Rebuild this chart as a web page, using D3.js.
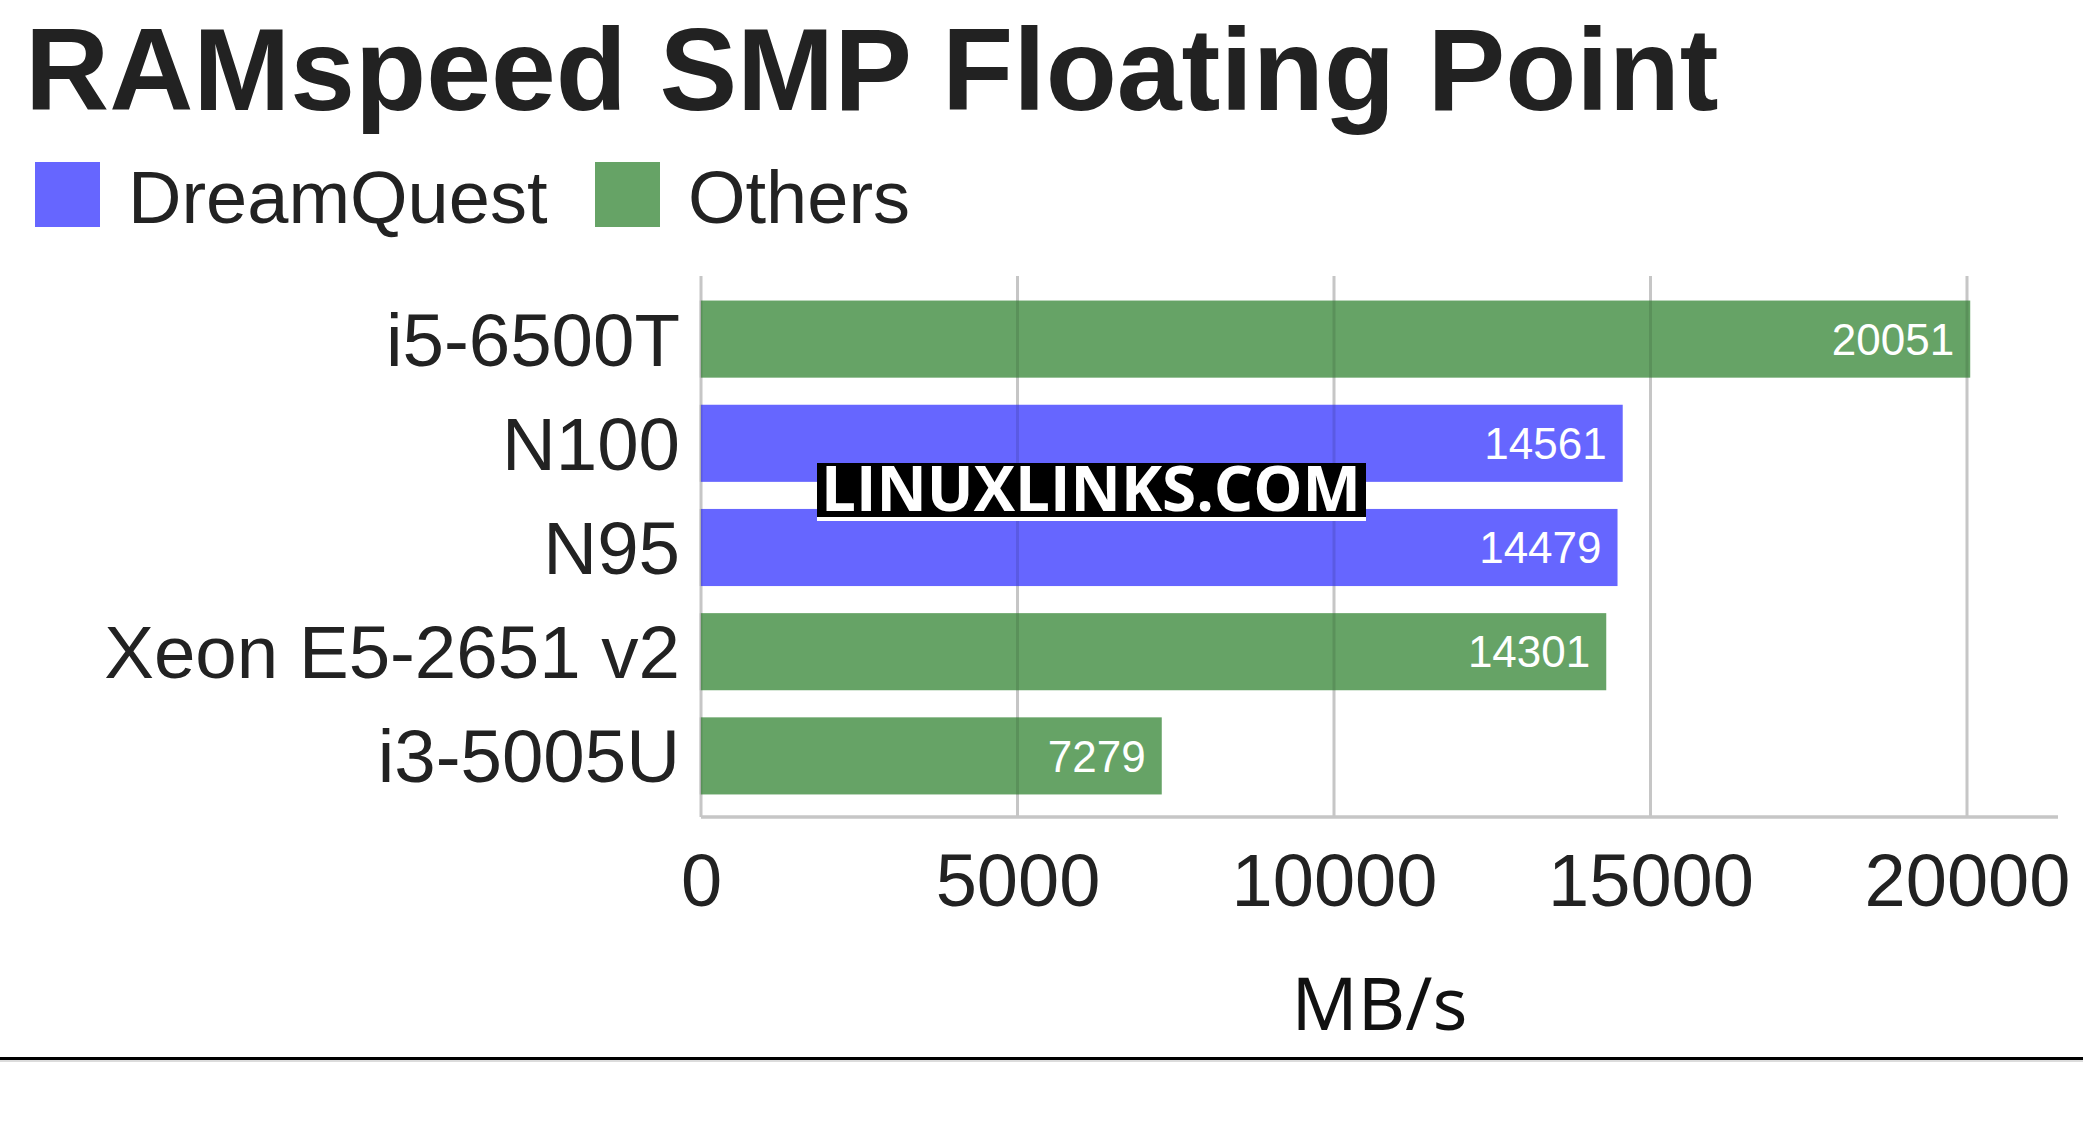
<!DOCTYPE html>
<html>
<head>
<meta charset="utf-8">
<script src="https://cdn.jsdelivr.net/npm/d3@7"></script>
<style>
  html, body { margin: 0; padding: 0; background: #fff; }
  svg { display: block; }
</style>
</head>
<body>
<svg id="chart" width="2083" height="1145"></svg>
<script>
const title = "RAMspeed SMP Floating Point";
const categories = ["i5-6500T", "N100", "N95", "Xeon E5-2651 v2", "i3-5005U"];
const values = [20051, 14561, 14479, 14301, 7279];
const groups = ["Others", "DreamQuest", "DreamQuest", "Others", "Others"];
const seriesNames = ["DreamQuest", "Others"];
const seriesColors = ["#6666ff", "#66a366"];
const xTicks = [0, 5000, 10000, 15000, 20000];
const xAxisTitle = "MB/s";
const watermark = "LINUXLINKS.COM";

(function () {
const svg = d3.select("#chart");
const W = 2083, H = 1145;
const plotLeft = 701, plotRight = 2058, plotTop = 276, plotBottom = 817;

const color = d3.scaleOrdinal().domain(seriesNames).range(seriesColors);
const x = d3.scaleLinear().domain([0, 20000]).range([plotLeft, 1967]);
const y = d3.scaleBand().domain(categories).range([287, 808]).paddingInner(0.26).paddingOuter(0.13);

// Title
svg.append("text").attr("x", 25).attr("y", 110)
  .attr("font-family", "Liberation Sans, Arial, sans-serif")
  .attr("font-weight", "bold").attr("font-size", 116.5).attr("fill", "#222")
  .text(title);

// Legend
const legendX = [35, 595];
seriesNames.forEach((s, i) => {
  svg.append("rect").attr("x", legendX[i]).attr("y", 162).attr("width", 65).attr("height", 65)
    .attr("fill", color(s));
  svg.append("text").attr("x", legendX[i] + 93).attr("y", 223)
    .attr("font-family", "Liberation Sans, Arial, sans-serif")
    .attr("font-size", 74).attr("fill", "#222").text(s);
});

// Gridlines (under bars)
svg.append("g").selectAll("line").data(xTicks).join("line")
  .attr("x1", d => x(d)).attr("x2", d => x(d))
  .attr("y1", plotTop).attr("y2", plotBottom)
  .attr("stroke", "#c6c6c6").attr("stroke-width", 3);

// Bars
svg.append("g").selectAll("rect").data(categories).join("rect")
  .attr("x", x(0)).attr("y", d => y(d))
  .attr("width", (d, i) => x(values[i]) - x(0))
  .attr("height", y.bandwidth())
  .attr("fill", (d, i) => color(groups[i]));

// Gridline shading visible through bars
const overlaps = [];
categories.forEach((c, i) => xTicks.forEach(t => { if (t <= values[i]) overlaps.push({ c, t }); }));
svg.append("g").selectAll("line").data(overlaps).join("line")
  .attr("x1", d => x(d.t)).attr("x2", d => x(d.t))
  .attr("y1", d => y(d.c)).attr("y2", d => y(d.c) + y.bandwidth())
  .attr("stroke", "rgba(0,0,0,0.11)").attr("stroke-width", 3);

// Baseline of x axis
svg.append("line").attr("x1", plotLeft).attr("x2", plotRight).attr("y1", plotBottom).attr("y2", plotBottom)
  .attr("stroke", "#c6c6c6").attr("stroke-width", 3.5);

// X axis tick labels
const xAxis = d3.axisBottom(x).tickValues(xTicks).tickSize(0).tickPadding(0).tickFormat(d3.format("d"));
const gx = svg.append("g").call(xAxis);
gx.select(".domain").remove();
gx.selectAll("text")
  .attr("y", 906).attr("dy", null)
  .attr("font-family", "Liberation Sans, Arial, sans-serif")
  .attr("font-size", 74).attr("fill", "#222");

// Y axis category labels
const yAxis = d3.axisLeft(y).tickSize(0).tickPadding(0);
const gy = svg.append("g").attr("transform", "translate(680,0)").call(yAxis);
gy.select(".domain").remove();
gy.selectAll("text")
  .attr("x", 0).attr("dy", "0.355em")
  .attr("font-family", "Liberation Sans, Arial, sans-serif")
  .attr("font-size", 74.5).attr("fill", "#222");

// Value labels
svg.append("g").selectAll("text").data(categories).join("text")
  .attr("x", (d, i) => x(values[i]) - 16)
  .attr("y", d => y(d) + y.bandwidth() / 2)
  .attr("dy", "0.355em")
  .attr("text-anchor", "end")
  .attr("font-family", "Liberation Sans, Arial, sans-serif")
  .attr("font-size", 44).attr("fill", "#fff")
  .text((d, i) => values[i]);

// Axis title
svg.append("text").attr("x", (plotLeft + plotRight) / 2).attr("y", 1030)
  .attr("text-anchor", "middle")
  .attr("font-family", "Noto Sans, DejaVu Sans, sans-serif")
  .attr("font-size", 73).attr("fill", "#111").text(xAxisTitle);

// Watermark
svg.append("rect").attr("x", 817).attr("y", 463).attr("width", 549).attr("height", 58).attr("fill", "#fff");
svg.append("rect").attr("x", 817).attr("y", 463).attr("width", 549).attr("height", 54).attr("fill", "#000");
svg.append("text").attr("x", 821).attr("y", 511)
  .attr("font-family", "Open Sans, DejaVu Sans, sans-serif")
  .attr("font-weight", "bold").attr("font-size", 62).attr("fill", "#fff")
  .attr("textLength", 540).attr("lengthAdjust", "spacingAndGlyphs")
  .text(watermark);

// Bottom rule
svg.append("line").attr("x1", 0).attr("x2", W).attr("y1", 1061).attr("y2", 1061)
  .attr("stroke", "#d0d0d0").attr("stroke-width", 1.5);
svg.append("line").attr("x1", 0).attr("x2", W).attr("y1", 1058.5).attr("y2", 1058.5)
  .attr("stroke", "#000").attr("stroke-width", 3);
})();
</script>
</body>
</html>
